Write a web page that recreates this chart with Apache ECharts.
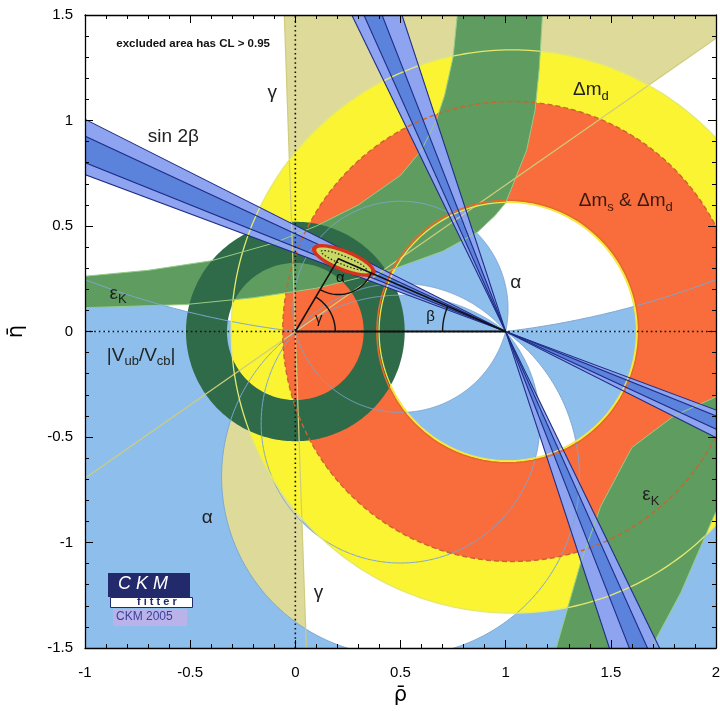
<!DOCTYPE html>
<html><head><meta charset="utf-8">
<script src="https://cdn.jsdelivr.net/npm/echarts@6/dist/echarts.min.js"></script>
<style>html,body{margin:0;padding:0;background:#fff}#c{width:720px;height:723px}</style>
</head><body><div id="c"></div><script>
// ---------------- data (rho, eta plane) ----------------
const rhoRange = [-1, 2];
const etaRange = [-1.5, 1.5];
const gammaWedge = [34.8, 92];                 // deg, from origin, plus the +180 mirror
const alphaUpperOuter = [[0, 6.8]];            // alpha ranges (deg), eta>0 side
const alphaLowerOuter = [[0, 36]];             // eta<0 side
const alphaUpperInner = [[78, 131], [142, 180]];
const alphaLowerInner = [[49, 105]];
const dmdCircles = [[1.01, 0, 0.612], [1.03, 0, 1.335]];   // [cx, cy, r] inner, outer
const dmsCircles = [[1.01, 0, 0.622], [1.03, 0, 1.09]];
const vubCircles = [[0, 0, 0.325], [0, 0, 0.52]];
const sin2bOuter = [[20.4, 26.7], [64, 71.8]];  // beta angles at (1,0)
const sin2bInner = [[21.8, 24.85], [65.8, 68.6]];
const epsUpperLow = [[-1.1,0.108],[-1,0.113],[-0.52,0.128],[-0.2,0.16],[0.1,0.205],[0.45,0.29],[0.7,0.38],[0.865,0.47],[0.95,0.55],[1.0,0.61],[1.04,0.71],[1.10,0.86],[1.14,1.05],[1.16,1.25],[1.175,1.5],[1.18,1.7]];
const epsUpperHigh = [[-1.1,0.255],[-1,0.262],[-0.7,0.29],[-0.4,0.335],[-0.1,0.42],[0.1,0.5],[0.3,0.6],[0.5,0.74],[0.6,0.86],[0.67,1.0],[0.71,1.12],[0.75,1.3],[0.77,1.5],[0.78,1.7]];
const epsLowerHigh = [[1.19,-1.7],[1.246,-1.48],[1.357,-1.095],[1.452,-0.828],[1.6,-0.55],[1.8,-0.40],[2.0,-0.31],[2.1,-0.28]];
const epsLowerLow = [[1.66,-1.7],[1.705,-1.475],[1.833,-1.237],[1.99,-0.875],[2.1,-0.65]];
const fitCenter = [0.23, 0.337];
const fitAxes95 = [0.162, 0.052];
const fitAxes68 = [0.14, 0.035];
const fitAxesDot = [0.115, 0.02];
const fitTilt = -22;
const apex = [0.205, 0.345];
const labels = [
  [-0.486, 1.365, '{t|excluded area has CL > 0.95}'],
  [-0.11, 1.133, '{m|γ}'],
  [-0.58, 0.924, '{m|sin 2β}'],
  [1.405, 1.137, '{m|Δm}{s|d}'],
  [1.571, 0.611, '{r|Δm}{rs|s}{r| & Δm}{rs|d}'],
  [1.048, 0.232, '{m|α}'],
  [-0.843, 0.171, '{m|ε}{s|K}'],
  [-0.733, -0.12, '{m|\u007CV}{s|ub}{m|/V}{s|cb}{m|\u007C}'],
  [-0.419, -0.882, '{m|α}'],
  [0.11, -1.237, '{m|γ}'],
  [1.69, -0.782, '{m|ε}{s|K}'],
  [0.214, 0.256, '{k|α}'],
  [0.111, 0.06, '{k|γ}'],
  [0.643, 0.07, '{k|β}']
];

// ---------------- geometry helpers ----------------
const FONT = '"Liberation Sans", Arial, Helvetica, sans-serif';
const D2R = Math.PI / 180;
const FAR = 20;
function arc(cx, cy, r, a0, a1, n) {
  const out = [];
  for (let i = 0; i <= n; i++) {
    const a = (a0 + (a1 - a0) * i / n) * D2R;
    out.push([cx + r * Math.cos(a), cy + r * Math.sin(a)]);
  }
  return out;
}
function ringPoly(inner, outer) {
  return arc(outer[0], outer[1], outer[2], 0, 360, 260).concat(arc(inner[0], inner[1], inner[2], 360, 0, 260));
}
function alphaCurve(a) { // eta>0 side, from (1,0) over the top to (0,0)
  if (a >= 180) return [[1, 0], [0, 0]];
  const cy = 0.5 / Math.tan(a * D2R), R = 0.5 / Math.sin(a * D2R);
  return arc(0.5, cy, R, a - 90, 270 - a, a < 20 ? 2400 : 500);
}
function mirror(pts) { return pts.map(p => [p[0], -p[1]]); }
function alphaRegion(range, lower) {
  const inner = alphaCurve(range[1]).slice().reverse();
  let pts;
  if (range[0] <= 0) pts = [[-FAR, 0]].concat(inner, [[FAR, 0], [FAR, FAR], [-FAR, FAR]]);
  else pts = alphaCurve(range[0]).concat(inner);
  return lower ? mirror(pts) : pts;
}
function wedge(c, a0, a1) { return [c].concat(arc(c[0], c[1], 8, a0, a1, 60)); }
function bowtie(b) { return [wedge([1, 0], 180 - b[1], 180 - b[0]), wedge([1, 0], -b[1], -b[0])]; }
function ellipse(c, ax, tilt) {
  const out = [], t = tilt * D2R;
  for (let i = 0; i <= 160; i++) {
    const a = i / 160 * 2 * Math.PI;
    const x = ax[0] * Math.cos(a), y = ax[1] * Math.sin(a);
    out.push([c[0] + x * Math.cos(t) - y * Math.sin(t), c[1] + x * Math.sin(t) + y * Math.cos(t)]);
  }
  return out;
}
function throughLine(c, ang) {
  const a = ang * D2R;
  return [[c[0] - 8 * Math.cos(a), c[1] - 8 * Math.sin(a)], [c[0] + 8 * Math.cos(a), c[1] + 8 * Math.sin(a)]];
}

// ---------------- colours ----------------
const BLUE = '#8ebfec', KHAKI = '#dedb9a', YELLOW = '#faf432', ORANGE = '#f96c3b';
const GREEN = '#5e9c60', DKGREEN = '#2f6b48', SB1 = '#8ea4f0', SB2 = '#5b83dc', NAVY = '#1e2d86';

// ---------------- layers ----------------
const fills = [
  { polys: alphaUpperInner.map(r => alphaRegion(r, false)).concat(alphaLowerInner.map(r => alphaRegion(r, true))), fill: BLUE },
  { polys: [wedge([0, 0], gammaWedge[0], gammaWedge[1]), wedge([0, 0], gammaWedge[0] + 180, gammaWedge[1] + 180)], fill: KHAKI },
  { polys: alphaUpperOuter.map(r => alphaRegion(r, false)).concat(alphaLowerOuter.map(r => alphaRegion(r, true))), fill: BLUE },
  { polys: [ringPoly(dmdCircles[0], dmdCircles[1])], fill: YELLOW },
  { polys: [ringPoly(dmsCircles[0], dmsCircles[1])], fill: ORANGE },
  { polys: [epsUpperLow.concat(epsUpperHigh.slice().reverse()), epsLowerHigh.concat(epsLowerLow.slice().reverse())], fill: GREEN },
  { polys: [ringPoly(vubCircles[0], vubCircles[1])], fill: DKGREEN },
  { polys: [].concat(...sin2bOuter.map(bowtie)), fill: SB1 },
  { polys: [].concat(...sin2bInner.map(bowtie)), fill: SB2 }
];

const lines = [];
alphaUpperOuter.concat(alphaUpperInner).forEach(r => r.forEach(a => { if (a > 0 && a < 180) lines.push({ pts: alphaCurve(a), color: '#7ea6d2', width: 1 }); }));
alphaLowerOuter.concat(alphaLowerInner).forEach(r => r.forEach(a => { if (a > 0 && a < 180) lines.push({ pts: mirror(alphaCurve(a)), color: '#7ea6d2', width: 1 }); }));
gammaWedge.forEach(g => lines.push({ pts: throughLine([0, 0], g), color: '#cfcc7c', width: 1.2 }));
lines.push({ pts: arc(dmdCircles[1][0], dmdCircles[1][1], dmdCircles[1][2], 0, 360, 300), color: '#e4e870', width: 1.3 });
lines.push({ pts: arc(dmdCircles[0][0], dmdCircles[0][1], dmdCircles[0][2], 0, 360, 200), color: '#f2e64a', width: 1.3 });
lines.push({ pts: arc(dmsCircles[1][0], dmsCircles[1][1], dmsCircles[1][2], 0, 360, 300), color: '#c9652f', width: 1.4, dash: [5, 3] });
lines.push({ pts: arc(dmsCircles[0][0], dmsCircles[0][1], dmsCircles[0][2], 0, 360, 200), color: '#e5692c', width: 1.6 });
[epsUpperLow, epsUpperHigh, epsLowerHigh, epsLowerLow].forEach(e => lines.push({ pts: e, color: '#96cc88', width: 1 }));
sin2bOuter.concat(sin2bInner).forEach(b => b.forEach(t => lines.push({ pts: throughLine([1, 0], 180 - t), color: NAVY, width: 1.1 })));

// global fit & triangle
const angA = Math.atan2(-apex[1], -apex[0]) / D2R;
const angB = Math.atan2(-apex[1], 1 - apex[0]) / D2R;
const angG = Math.atan2(apex[1], apex[0]) / D2R;
const topLines = [
  { pts: [[0, etaRange[0]], [0, etaRange[1]]], color: '#111', width: 1.6, dash: [1.6, 3] },
  { pts: [[rhoRange[0], 0], [rhoRange[1], 0]], color: '#111', width: 1.6, dash: [1.6, 3] },
  { pts: [[0, 0], [1, 0]], color: '#111', width: 2 },
  { pts: [[0, 0], apex, [1, 0]], color: '#111', width: 1.6 },
  { pts: arc(apex[0], apex[1], 0.17, angA, angB, 40), color: '#111', width: 1.4 },
  { pts: arc(0, 0, 0.19, 0, angG, 40), color: '#111', width: 1.4 },
  { pts: arc(1, 0, 0.3, 180, 180 + angB, 30), color: '#111', width: 1.4 },
  { pts: ellipse(fitCenter, fitAxesDot, fitTilt), color: '#222', width: 1.2, dash: [1.5, 2] }
];

function polySeries(layer, z) {
  return { type: 'custom', coordinateSystem: 'cartesian2d', clip: true, z, silent: true,
    data: layer.polys.map(() => [0, 0]),
    renderItem: (params, api) => ({ type: 'polygon', shape: { points: layer.polys[params.dataIndex].map(p => api.coord(p)) },
      style: { fill: layer.fill, stroke: layer.stroke || null, lineWidth: layer.lw || 0 } }) };
}
function lineSeries(ls, z) {
  return { type: 'custom', coordinateSystem: 'cartesian2d', clip: true, z, silent: true,
    data: ls.map(() => [0, 0]),
    renderItem: (params, api) => { const l = ls[params.dataIndex];
      return { type: 'polyline', shape: { points: l.pts.map(p => api.coord(p)) },
        style: { fill: null, stroke: l.color, lineWidth: l.width, lineDash: l.dash || null } }; } };
}
const txt = (size, col, pad, weight) => ({ fontSize: size, fontFamily: FONT, fontWeight: weight || 'normal', fill: col, verticalAlign: 'top', padding: pad || [0, 0, 0, 0] });
const RICH = {
  t: txt(11.5, '#111', null, 'bold'), m: txt(19, '#222'), s: txt(13, '#222', [9, 0, 0, 0]),
  r: txt(19, '#3a1a10'), rs: txt(13, '#3a1a10', [9, 0, 0, 0]), k: txt(15, '#111')
};
const series = [];
fills.forEach((f, i) => series.push(polySeries(f, 2 + i)));
series.push(lineSeries(lines, 20));
series.push(polySeries({ polys: [ellipse(fitCenter, fitAxes95, fitTilt)], fill: '#d6331f' }, 21));
series.push(polySeries({ polys: [ellipse(fitCenter, fitAxes68, fitTilt)], fill: '#c8d862' }, 22));
series.push(lineSeries(topLines, 23));
series.push({ type: 'custom', coordinateSystem: 'cartesian2d', clip: false, z: 24, silent: true,
  data: labels.map(() => [0, 0]),
  renderItem: (params, api) => { const L = labels[params.dataIndex]; const p = api.coord([L[0], L[1]]);
    return { type: 'text', x: p[0], y: p[1], style: { text: L[2], rich: RICH, align: 'center', verticalAlign: 'middle', fontFamily: FONT } }; } });

function axisCommon(extra) {
  return Object.assign({ type: 'value', z: 50, splitLine: { show: false },
    axisLine: { onZero: false, lineStyle: { color: '#000', width: 1.3 } },
    axisTick: { inside: true, length: 8, lineStyle: { color: '#000', width: 1 } },
    minorTick: { show: true, splitNumber: 5, length: 4, lineStyle: { color: '#000', width: 1 } },
    axisLabel: { color: '#000', fontSize: 15, fontFamily: FONT } }, extra);
}
const chart = echarts.init(document.getElementById('c'));
chart.setOption({
  animation: false, backgroundColor: '#fff',
  grid: { left: 85, right: 4, top: 15, bottom: 75, containLabel: false, outerBoundsMode: 'none' },
  xAxis: [
    axisCommon({ min: rhoRange[0], max: rhoRange[1], interval: 0.5, position: 'bottom',
      axisLabel: { color: '#000', fontSize: 15, fontFamily: FONT, margin: 17 },
      name: 'ρ\u0304', nameLocation: 'middle', nameGap: 36, nameTextStyle: { fontSize: 21, fontFamily: '"DejaVu Sans", sans-serif', color: '#000' } }),
    axisCommon({ min: rhoRange[0], max: rhoRange[1], interval: 0.5, position: 'top', axisLabel: { show: false } })
  ],
  yAxis: [
    axisCommon({ min: etaRange[0], max: etaRange[1], interval: 0.5, position: 'left',
      axisLabel: { color: '#000', fontSize: 15, fontFamily: FONT, margin: 12 },
      name: 'η\u0304', nameLocation: 'middle', nameRotate: 90, nameGap: 58, nameTextStyle: { fontSize: 21, fontFamily: '"DejaVu Sans", sans-serif', color: '#000' } }),
    axisCommon({ min: etaRange[0], max: etaRange[1], interval: 0.5, position: 'right', axisLabel: { show: false } })
  ],
  series,
  graphic: [
    { type: 'rect', left: 108, top: 573, shape: { width: 82, height: 24 }, style: { fill: '#222a6c' }, z: 60 },
    { type: 'text', left: 118, top: 575, style: { text: 'C K M', fill: '#fff', font: 'italic 18px ' + FONT }, z: 61 },
    { type: 'rect', left: 110, top: 597, shape: { width: 82, height: 10 }, style: { fill: '#fff', stroke: '#222a6c', lineWidth: 1 }, z: 60 },
    { type: 'text', left: 137, top: 596, style: { text: 'f i t t e r', fill: '#222a6c', font: 'bold 11px ' + FONT }, z: 61 },
    { type: 'rect', left: 113, top: 609, shape: { width: 74, height: 17 }, style: { fill: '#b9b3ea' }, z: 60 },
    { type: 'text', left: 116, top: 611, style: { text: 'CKM 2005', fill: '#3a3f9a', font: '12px ' + FONT }, z: 61 }
  ]
});
</script></body></html>
